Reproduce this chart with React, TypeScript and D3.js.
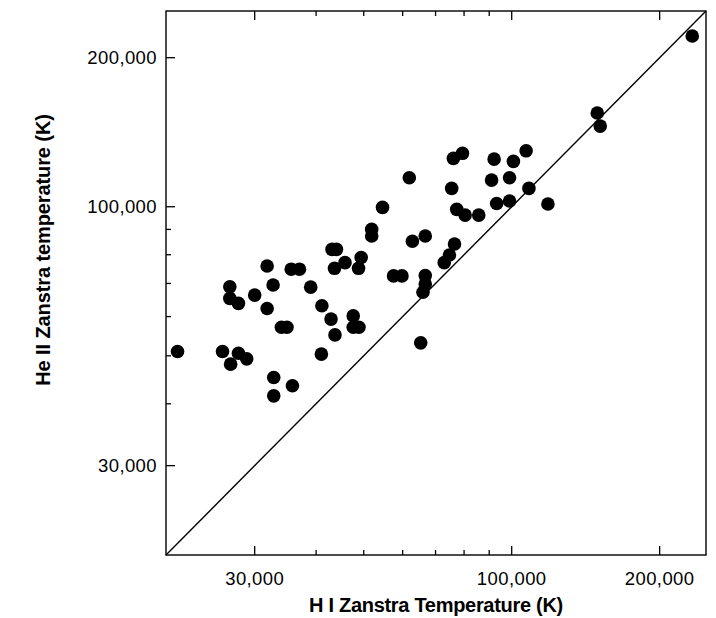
import React from "react";
import * as d3 from "d3";

// H I Zanstra temperature (K) — x
const hiTemp = [20900, 25800, 26800, 27800, 28900, 26700, 26700, 27800, 30000, 31800,
  32700, 31800, 34000, 34900, 35600, 37000, 32800, 32800, 35800, 39000,
  41100, 41000, 42900, 43700, 43100, 44000, 43600, 45800, 49400, 48800,
  47600, 47600, 48900, 51900, 51900, 54600, 57500, 59800, 61900, 62800,
  66700, 66700, 66700, 66000, 65300, 72900, 74700, 76500, 75500, 76100,
  79400, 77300, 80400, 85700, 91000, 92100, 93200, 99000, 99000, 100800,
  107000, 108400, 118500, 149300, 151400, 233000];
// He II Zanstra temperature (K) — y
const heiiTemp = [51000, 51000, 48100, 50600, 49300, 68900, 65300, 63800, 66300, 75900,
  69500, 62300, 57100, 57100, 74800, 74800, 45200, 41500, 43500, 68800,
  63100, 50400, 59300, 55100, 82000, 82000, 75100, 77100, 79000, 75100,
  60200, 57100, 57100, 90000, 87300, 99700, 72500, 72500, 114400, 85200,
  87300, 72600, 69800, 67200, 53100, 77100, 79900, 84100, 108900, 125200,
  128200, 98800, 96200, 96200, 113200, 124800, 101500, 114400, 102700, 123500,
  129700, 108900, 101300, 154600, 145500, 221200];

const domain = [19800, 248500];
const majorTicks = [30000, 100000, 200000];
const minorTicks = [40000, 50000, 60000, 70000, 80000, 90000];
const xTitle = "H I Zanstra Temperature (K)";
const yTitle = "He II Zanstra temperature (K)";

export default function App() {
  const W = 716, H = 618;
  const left = 166, right = 706, top = 11, bottom = 555;
  const x = d3.scaleLog().domain(domain).range([left, right]);
  const y = d3.scaleLog().domain(domain).range([bottom, top]);
  const fmt = d3.format(",");
  const font = "'Liberation Sans', Arial, Helvetica, sans-serif";
  const points = hiTemp.map((v, i) => [v, heiiTemp[i]]);
  const majLen = 9, minLen = 5;
  return (
    <svg width={W} height={H} style={{ position: "absolute", left: 0, top: 0, background: "#fff" }}>
      <rect x={0} y={0} width={W} height={H} fill="#fff" />
      {/* diagonal y = x */}
      <line x1={x(domain[0])} y1={y(domain[0])} x2={x(domain[1])} y2={y(domain[1])} stroke="#000" strokeWidth={1.4} />
      {/* points */}
      {points.map((p, i) => (
        <circle key={i} cx={x(p[0])} cy={y(p[1])} r={6.8} fill="#000" />
      ))}
      {/* frame */}
      <rect x={left} y={top} width={right - left} height={bottom - top} fill="none" stroke="#000" strokeWidth={1.4} />
      {/* bottom & top ticks */}
      {majorTicks.map((t) => (
        <g key={"xm" + t}>
          <line x1={x(t)} x2={x(t)} y1={bottom} y2={bottom - majLen} stroke="#000" strokeWidth={1.3} />
          <line x1={x(t)} x2={x(t)} y1={top} y2={top + majLen} stroke="#000" strokeWidth={1.3} />
          <text x={x(t)} y={585} textAnchor="middle" fontFamily={font} fontSize={18.5} letterSpacing={0.4} fill="#000">{fmt(t)}</text>
        </g>
      ))}
      {minorTicks.map((t) => (
        <g key={"xn" + t}>
          <line x1={x(t)} x2={x(t)} y1={bottom} y2={bottom - minLen} stroke="#000" strokeWidth={1.3} />
          <line x1={x(t)} x2={x(t)} y1={top} y2={top + minLen} stroke="#000" strokeWidth={1.3} />
        </g>
      ))}
      {/* left ticks */}
      {majorTicks.map((t) => (
        <g key={"ym" + t}>
          <line x1={left} x2={left + majLen} y1={y(t)} y2={y(t)} stroke="#000" strokeWidth={1.3} />
          <text x={157} y={y(t)} dy="0.36em" textAnchor="end" fontFamily={font} fontSize={18.5} letterSpacing={0.4} fill="#000">{fmt(t)}</text>
        </g>
      ))}
      {minorTicks.map((t) => (
        <line key={"yn" + t} x1={left} x2={left + minLen} y1={y(t)} y2={y(t)} stroke="#000" strokeWidth={1.3} />
      ))}
      {/* titles */}
      <text x={(left + right) / 2} y={612} textAnchor="middle" fontFamily={font} fontWeight="bold" fontSize={20} letterSpacing={-0.3} fill="#000">{xTitle}</text>
      <text transform={`translate(50, 250) rotate(-90)`} textAnchor="middle" fontFamily={font} fontWeight="bold" fontSize={20} letterSpacing={-0.1} fill="#000">{yTitle}</text>
    </svg>
  );
}
